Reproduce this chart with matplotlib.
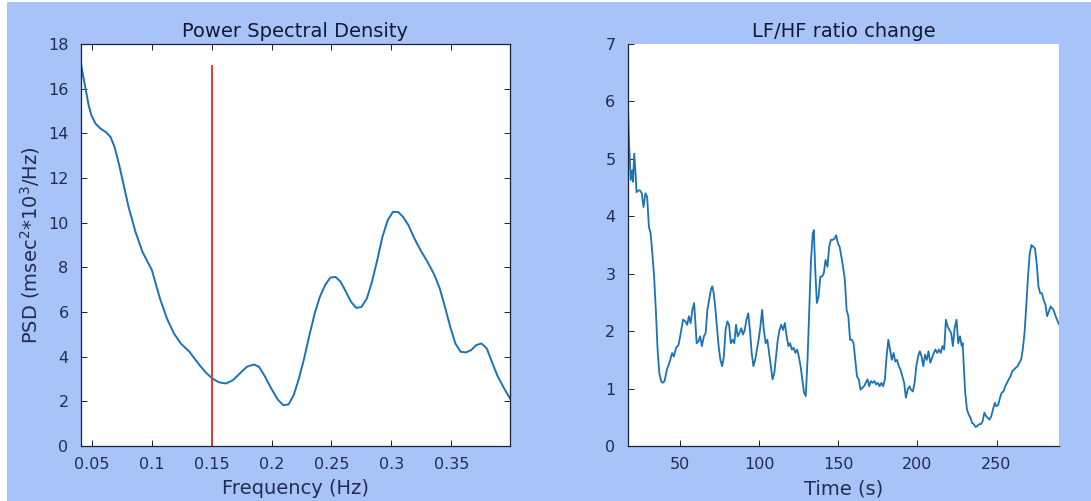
import matplotlib
matplotlib.use("Agg")
import matplotlib.pyplot as plt
from matplotlib.patches import Rectangle

# ---- data: Power Spectral Density ----
freq = [0.0410, 0.0430, 0.0451, 0.0474, 0.0497, 0.0532, 0.0575, 0.0619, 0.0657, 0.0691,
        0.0726, 0.0764, 0.0807, 0.0865, 0.0923, 0.1002, 0.1069, 0.1127, 0.1185, 0.1243,
        0.1315, 0.1388, 0.1446, 0.1504, 0.1562, 0.1620, 0.1678, 0.1736, 0.1794, 0.1852,
        0.1895, 0.1939, 0.1997, 0.2055, 0.2098, 0.2142, 0.2185, 0.2229, 0.2272, 0.2316,
        0.2360, 0.2403, 0.2447, 0.2490, 0.2534, 0.2577, 0.2621, 0.2664, 0.2708, 0.2751,
        0.2795, 0.2838, 0.2882, 0.2925, 0.2969, 0.3012, 0.3056, 0.3099, 0.3143, 0.3186,
        0.3244, 0.3302, 0.3360, 0.3404, 0.3447, 0.3491, 0.3534, 0.3578, 0.3621, 0.3665,
        0.3708, 0.3752, 0.3796, 0.3839, 0.3883, 0.3941, 0.3990]
psd = [17.11, 16.51, 15.92, 15.25, 14.80, 14.43, 14.20, 14.05, 13.83, 13.38,
       12.64, 11.74, 10.70, 9.58, 8.69, 7.87, 6.60, 5.71, 5.04, 4.59,
       4.22, 3.70, 3.32, 3.03, 2.85, 2.80, 2.95, 3.25, 3.55, 3.65,
       3.55, 3.17, 2.58, 2.06, 1.83, 1.86, 2.28, 3.03, 3.92, 4.96,
       5.93, 6.68, 7.20, 7.54, 7.57, 7.35, 6.90, 6.45, 6.18, 6.23,
       6.60, 7.35, 8.32, 9.36, 10.10, 10.48, 10.48, 10.25, 9.88, 9.36,
       8.76, 8.24, 7.65, 7.05, 6.23, 5.34, 4.59, 4.22, 4.19, 4.29,
       4.52, 4.59, 4.37, 3.77, 3.17, 2.58, 2.13]
lf_hf_boundary = 0.15
boundary_top = 17

# ---- data: LF/HF ratio change ----
time_s = [16.5, 17.6, 18.7, 19.6, 20.2, 20.9, 21.8, 22.4, 23.5, 24.6, 25.7, 26.8, 28.0, 29.1,
          30.2, 31.3, 32.4, 33.5, 34.6, 35.7, 36.8, 37.9, 39.0, 40.1, 41.6, 43.4, 44.9, 46.0,
          47.4, 48.9, 50.0, 51.8, 53.3, 54.4, 55.5, 56.6, 57.7, 58.8, 59.5, 60.4, 61.5, 62.6,
          63.7, 65.0, 66.1, 67.2, 68.3, 69.4, 70.3, 71.2, 72.1, 73.2, 74.3, 75.4, 76.5, 77.6,
          78.7, 79.8, 80.9, 82.0, 83.1, 84.2, 85.3, 86.4, 87.5, 88.6, 89.7, 90.8, 91.9, 93.0,
          94.1, 95.2, 96.3, 97.4, 98.5, 99.6, 100.7, 101.8, 102.9, 104.0, 105.1, 106.2, 107.3,
          108.4, 109.5, 110.6, 111.7, 112.8, 113.9, 115.0, 116.2, 117.3, 118.4, 119.5, 120.6,
          121.7, 122.8, 123.9, 125.0, 126.1, 127.2, 128.3, 129.4, 130.5, 131.6, 132.7, 133.8,
          134.5, 135.3, 136.4, 137.5, 138.6, 139.7, 140.8, 141.9, 143.1, 144.2, 145.3, 146.4,
          147.5, 148.6, 149.7, 150.8, 151.9, 153.0, 154.1, 155.2, 156.3, 157.4, 158.5, 159.6,
          160.7, 161.8, 162.9, 164.0, 165.1, 166.2, 167.3, 168.4, 169.5, 170.6, 171.7, 172.8,
          173.9, 175.0, 176.1, 177.2, 178.3, 179.4, 180.5, 181.6, 182.7, 183.8, 184.9, 186.0,
          187.1, 188.2, 189.3, 190.5, 191.6, 192.7, 193.8, 194.9, 196.0, 197.1, 198.2, 199.3,
          200.4, 201.5, 202.6, 203.7, 204.8, 205.9, 207.0, 208.1, 209.2, 210.3, 211.4, 212.5,
          213.6, 214.7, 215.8, 216.9, 218.0, 219.1, 220.2, 221.3, 222.4, 223.5, 224.7, 225.8,
          226.9, 228.0, 228.6, 229.3, 230.2, 231.3, 232.4, 233.5, 234.6, 235.7, 236.8, 237.9,
          239.0, 240.1, 241.2, 242.3, 243.4, 244.5, 245.6, 246.7, 247.8, 248.9, 250.0, 251.1,
          252.2, 253.3, 254.4, 255.5, 256.6, 257.7, 258.8, 259.9, 261.0, 262.1, 263.3, 264.4,
          265.5, 266.6, 267.7, 268.8, 269.9, 271.0, 272.1, 273.2, 274.3, 275.4, 276.5, 277.6,
          278.7, 279.8, 280.9, 282.0, 284.2, 286.0, 288.2, 289.7]
ratio = [6.39, 5.32, 4.63, 4.8, 4.6, 5.09, 4.74, 4.42, 4.45, 4.45, 4.4, 4.16, 4.4, 4.34,
         3.82, 3.7, 3.35, 2.95, 2.37, 1.68, 1.27, 1.13, 1.1, 1.13, 1.33, 1.47, 1.62, 1.56,
         1.71, 1.76, 1.91, 2.2, 2.17, 2.11, 2.26, 2.14, 2.37, 2.49, 2.2, 1.79, 1.82, 1.91,
         1.74, 1.91, 1.97, 2.37, 2.54, 2.72, 2.78, 2.66, 2.43, 2.08, 1.74, 1.5, 1.39, 1.56,
         2.02, 2.17, 2.11, 1.79, 1.85, 1.79, 2.11, 1.91, 1.97, 2.05, 1.94, 2.02, 2.2, 2.31,
         2.02, 1.62, 1.39, 1.5, 1.68, 1.85, 2.08, 2.37, 2.02, 1.79, 1.85, 1.62, 1.39,
         1.16, 1.27, 1.56, 1.85, 2.02, 2.11, 2.02, 2.14, 1.91, 1.74, 1.79, 1.68,
         1.71, 1.62, 1.68, 1.56, 1.39, 1.16, 0.93, 0.87, 1.5, 2.37, 3.24, 3.7,
         3.76, 3.12, 2.49, 2.6, 2.95, 2.95, 3.01, 3.24, 3.12, 3.47, 3.59, 3.59,
         3.61, 3.67, 3.53, 3.47, 3.3, 3.12, 2.89, 2.37, 2.26, 1.85, 1.85, 1.79,
         1.5, 1.21, 1.16, 0.98, 1.01, 1.04, 1.1, 1.16, 1.04, 1.13, 1.1, 1.13,
         1.07, 1.1, 1.04, 1.1, 1.04, 1.16, 1.56, 1.85, 1.68, 1.5, 1.62, 1.47,
         1.5, 1.39, 1.33, 1.21, 1.1, 0.84, 0.98, 1.04, 0.98, 0.95, 1.1, 1.39,
         1.56, 1.65, 1.56, 1.39, 1.59, 1.5, 1.65, 1.45, 1.53, 1.62, 1.68, 1.62,
         1.68, 1.62, 1.74, 1.68, 2.2, 2.08, 2.02, 1.97, 1.74, 2.05, 2.2, 1.79,
         1.91, 1.74, 1.79, 1.39, 0.93, 0.64, 0.55, 0.49, 0.4, 0.38, 0.33, 0.35,
         0.38, 0.38, 0.43, 0.58, 0.52, 0.49, 0.46, 0.52, 0.64, 0.75, 0.69, 0.72,
         0.84, 0.93, 0.95, 1.04, 1.1, 1.16, 1.21, 1.3, 1.33, 1.36, 1.39, 1.45,
         1.5, 1.68, 1.97, 2.43, 2.95, 3.35, 3.5, 3.47, 3.44, 3.18, 2.78, 2.66,
         2.66, 2.54, 2.46, 2.26, 2.43, 2.37, 2.2, 2.11]

freq_ticks = [0.05, 0.1, 0.15, 0.2, 0.25, 0.3, 0.35]
freq_ticklabels = ["0.05", "0.1", "0.15", "0.2", "0.25", "0.3", "0.35"]
psd_ticks = [0, 2, 4, 6, 8, 10, 12, 14, 16, 18]
time_ticks = [50, 100, 150, 200, 250]
ratio_ticks = [0, 1, 2, 3, 4, 5, 6, 7]

# ---- style ----
BG = "#a7c3f7"
TXT = "#222c52"
LINE = "#1a72b8"
RED = "#e8372c"
FS = 11.5
FS_LABEL = 14

plt.rcParams["font.family"] = ["DejaVu Sans"]
fig = plt.figure(figsize=(10.91, 5.01), dpi=100, facecolor="white")
fig.patches.append(Rectangle((7 / 1091, 0), 1, 1 - 2 / 501, transform=fig.transFigure,
                             facecolor=BG, edgecolor="none", zorder=-10))

ax1 = fig.add_axes([81 / 1091, 55 / 501, 429 / 1091, 402 / 501])
ax2 = fig.add_axes([628 / 1091, 55 / 501, 431 / 1091, 402 / 501])

for ax in (ax1, ax2):
    ax.set_facecolor("white")
    for s in ax.spines.values():
        s.set_color("#1c2238")
        s.set_linewidth(0.9)
    ax.tick_params(direction="in", length=4, width=0.7, colors="#1c2238",
                   labelcolor=TXT, labelsize=FS)
    ax.tick_params(axis="y", pad=9)
    ax.tick_params(axis="x", pad=8)

# left
ax1.plot(freq, psd, color=LINE, lw=1.4)
ax1.plot([lf_hf_boundary, lf_hf_boundary], [0, boundary_top], color=RED, lw=1.4)
ax1.set_xlim(0.041, 0.399)
ax1.set_ylim(0, 18)
ax1.set_xticks(freq_ticks)
ax1.set_xticklabels(freq_ticklabels)
ax1.set_yticks(psd_ticks)
ax1.tick_params(top=True, right=True)
ax1.set_title("Power Spectral Density", fontsize=FS_LABEL, color="#111a33", pad=5)
ax1.set_xlabel("Frequency (Hz)", fontsize=FS_LABEL, color=TXT, labelpad=5)
ax1.set_ylabel(r"PSD (msec$^2$*10$^3$/Hz)", fontsize=FS_LABEL, color=TXT, labelpad=4)

# right
ax2.plot(time_s, ratio, color=LINE, lw=1.3)
ax2.set_xlim(17, 289.5)
ax2.set_ylim(0, 7)
ax2.set_xticks(time_ticks)
ax2.set_yticks(ratio_ticks)
ax2.spines["top"].set_visible(False)
ax2.spines["right"].set_visible(False)
ax2.set_title("LF/HF ratio change", fontsize=FS_LABEL, color="#111a33", pad=5)
ax2.set_xlabel("Time (s)", fontsize=FS_LABEL, color=TXT, labelpad=5)

fig.savefig("out.png", dpi=100, facecolor=fig.get_facecolor())
